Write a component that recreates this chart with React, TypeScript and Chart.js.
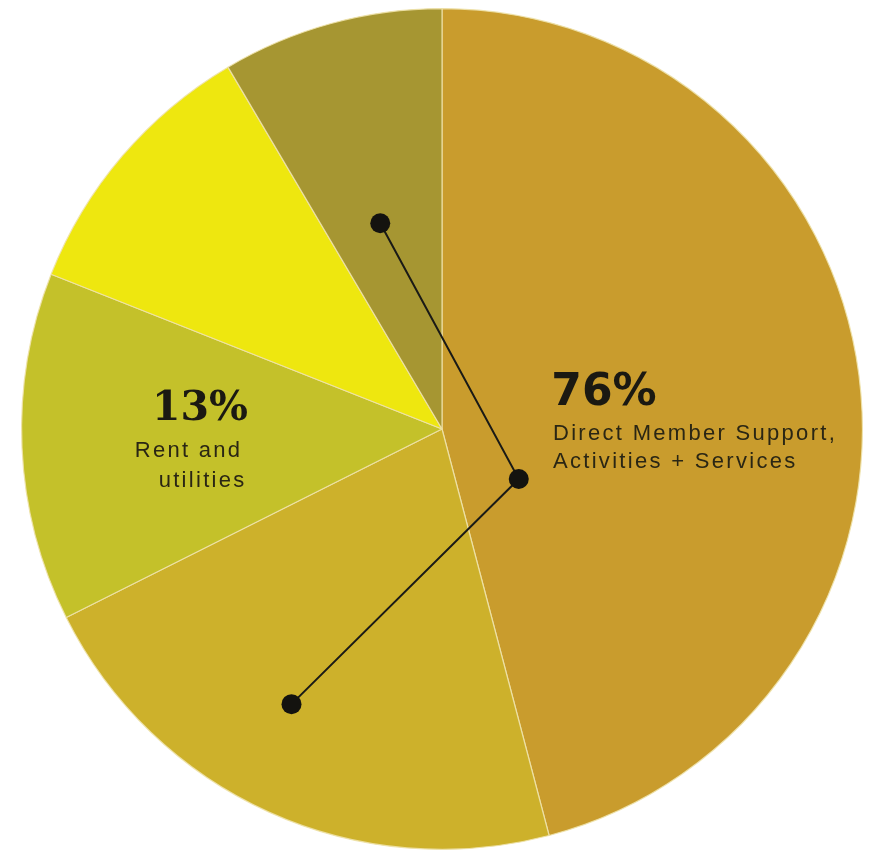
import React, { useEffect, useRef } from "react";
import { Chart, registerables } from "chart.js";

Chart.register(...registerables);

// ---- data ----
const categories = [
  "Direct Member Support",
  "Activities",
  "Rent and utilities",
  "Operations",
  "Services",
];
const shares = [45.9, 21.7, 13.4, 10.5, 8.5];
const sliceColors = ["#C99C2D", "#CDB12B", "#C4C12A", "#EEE70F", "#A69632"];

const mainPct = "76%";
const mainLines = ["Direct Member Support,", "Activities + Services"];
const rentPct = "13%";
const rentLines = ["Rent and", "utilities"];

// callout anchors: slice index, fraction along slice angle, fraction of radius
const calloutPath = [
  { slice: 4, t: 0.454, r: 0.511 },
  { slice: 0, t: 0.745, r: 0.218 },
  { slice: 1, t: 0.556, r: 0.746 },
];

const W = 871;
const H = 851;

const labelsPlugin = {
  id: "pieLabels",
  afterDraw(chart: any) {
    const ctx = chart.ctx as CanvasRenderingContext2D;
    const meta = chart.getDatasetMeta(0);
    const arcs = meta.data as any[];
    if (!arcs.length) return;
    const cx = arcs[0].x;
    const cy = arcs[0].y;
    const R = arcs[0].outerRadius;

    // connectors
    const pts = calloutPath.map((c) => {
      const a = arcs[c.slice];
      const ang = a.startAngle + c.t * (a.endAngle - a.startAngle);
      return { x: cx + Math.cos(ang) * c.r * R, y: cy + Math.sin(ang) * c.r * R };
    });
    ctx.save();
    ctx.strokeStyle = "#1a1a16";
    ctx.lineWidth = 2;
    ctx.beginPath();
    pts.forEach((p, i) => (i === 0 ? ctx.moveTo(p.x, p.y) : ctx.lineTo(p.x, p.y)));
    ctx.stroke();
    ctx.fillStyle = "#14130f";
    pts.forEach((p) => {
      ctx.beginPath();
      ctx.arc(p.x, p.y, 10, 0, Math.PI * 2);
      ctx.fill();
    });

    // text
    const u = (f: number) => f * R;
    ctx.textAlign = "left";
    ctx.textBaseline = "alphabetic";
    ctx.fillStyle = "#1b1912";
    (ctx as any).letterSpacing = "0px";
    ctx.font = 'bold 44px "DejaVu Sans"';
    ctx.fillText(mainPct, cx + u(0.26), cy + u(-0.057));
    ctx.font = 'bold 41px "DejaVu Serif"';
    ctx.fillText(rentPct, cx + u(-0.69), cy + u(-0.022));

    ctx.fillStyle = "#2a2614";
    (ctx as any).letterSpacing = "2.3px";
    ctx.font = '22px "Liberation Sans"';
    ctx.fillText(mainLines[0], cx + u(0.264), cy + u(0.026));
    ctx.fillText(mainLines[1], cx + u(0.264), cy + u(0.093));
    ctx.fillText(rentLines[0], cx + u(-0.731), cy + u(0.067));
    ctx.fillText(rentLines[1], cx + u(-0.674), cy + u(0.138));
    ctx.restore();
  },
};

export default function App() {
  const ref = useRef<HTMLCanvasElement>(null);
  useEffect(() => {
    if (!ref.current) return;
    const chart = new Chart(ref.current, {
      type: "pie",
      data: {
        labels: categories,
        datasets: [
          {
            data: shares,
            backgroundColor: sliceColors,
            borderColor: "rgba(238,226,170,0.9)",
            borderWidth: 1.2,
          },
        ],
      },
      options: {
        responsive: false,
        animation: false,
        events: [],
        layout: { padding: { left: 21, right: 8, top: 8, bottom: 1 } },
        plugins: {
          legend: { display: false },
          tooltip: { enabled: false },
        },
      },
      plugins: [labelsPlugin],
    });
    return () => chart.destroy();
  }, []);
  return (
    <div style={{ position: "fixed", left: 0, top: 0, width: W, height: H, background: "#fff" }}>
      <canvas ref={ref} width={W} height={H} style={{ display: "block", width: W, height: H }} />
    </div>
  );
}
